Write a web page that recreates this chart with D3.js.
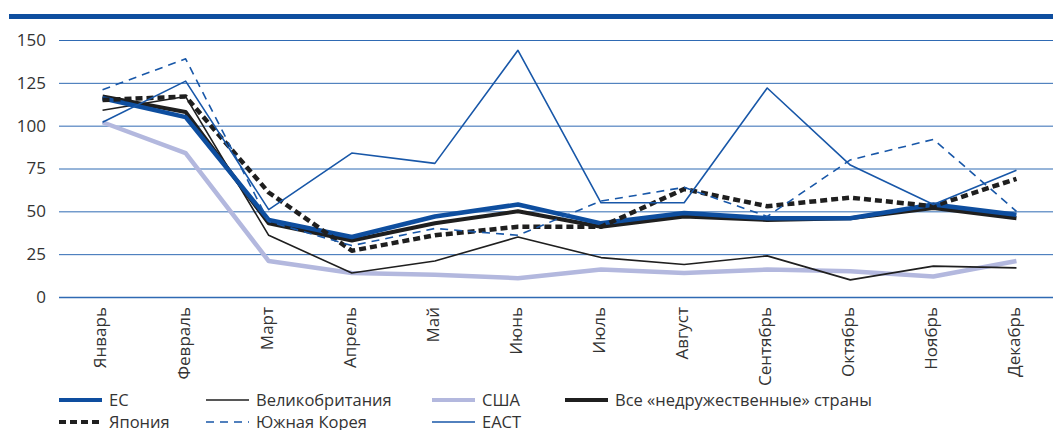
<!DOCTYPE html>
<html>
<head>
<meta charset="utf-8">
<script src="https://cdn.jsdelivr.net/npm/d3@7"></script>
<style>
  body { margin: 0; background: #fff; }
  svg { display: block; font-family: 'Open Sans', sans-serif; }
</style>
</head>
<body>
<div id="chart"></div>
<script>
let months = ['Январь', 'Февраль', 'Март', 'Апрель', 'Май', 'Июнь', 'Июль', 'Август', 'Сентябрь', 'Октябрь', 'Ноябрь', 'Декабрь']
let yTicks = [0, 25, 50, 75, 100, 125, 150]

let ec = [116, 105, 45, 35, 47, 54, 43, 49, 46, 46, 54, 48]
let uk = [109, 117, 36, 14, 21, 35, 23, 19, 24, 10, 18, 17]
let usa = [102, 84, 21, 14, 13, 11, 16, 14, 16, 15, 12, 21]
let allUnfriendly = [117, 108, 43, 33, 43, 50, 41, 47, 45, 46, 52, 46]
let japan = [115, 117, 61, 27, 36, 41, 41, 63, 53, 58, 53, 69]
let southKorea = [121, 139, 44, 30, 40, 36, 56, 64, 47, 80, 92, 50]
let eact = [102, 126, 51, 84, 78, 144, 55, 55, 122, 77, 54, 74]

let series = [
  { label: 'США', values: usa, color: '#b3b8de', width: 4.5, dash: null },
  { label: 'Великобритания', values: uk, color: '#1f1f1f', width: 1.6, dash: null },
  { label: 'Все «недружественные» страны', values: allUnfriendly, color: '#1f1f1f', width: 4, dash: null },
  { label: 'ЕС', values: ec, color: '#0e4e9f', width: 4.5, dash: null },
  { label: 'Япония', values: japan, color: '#1f1f1f', width: 4.5, dash: '7,4' },
  { label: 'Южная Корея', values: southKorea, color: '#1857a8', width: 1.6, dash: '8,6' },
  { label: 'ЕАСТ', values: eact, color: '#1857a8', width: 1.6, dash: null },
]

// legend order as in the picture
let legendOrder = ['ЕС', 'Великобритания', 'США', 'Все «недружественные» страны', 'Япония', 'Южная Корея', 'ЕАСТ']

let width = 1053,
  height = 430
let x = d3.scalePoint().domain(months).range([61, 1058]).padding(0.5)
let y = d3.scaleLinear().domain([0, 150]).range([297, 40])

let svg = d3
  .select('#chart')
  .append('svg')
  .attr('width', width)
  .attr('height', height)

// top rule
svg
  .append('rect')
  .attr('x', 9)
  .attr('y', 14)
  .attr('width', width - 9)
  .attr('height', 5)
  .attr('fill', '#0e4e9f')

// grid
let grid = svg.append('g').classed('grid', true)
grid
  .selectAll('line')
  .data(yTicks)
  .enter()
  .append('line')
  .attr('x1', 59)
  .attr('x2', width)
  .attr('y1', d => y(d) + 0.5)
  .attr('y2', d => y(d) + 0.5)
  .attr('stroke', '#2f6ab3')
  .attr('stroke-width', d => (d === 0 ? 1.4 : 1))

grid
  .selectAll('text')
  .data(yTicks)
  .enter()
  .append('text')
  .attr('x', 46)
  .attr('y', d => y(d))
  .attr('dy', '0.35em')
  .attr('text-anchor', 'end')
  .style('font-size', '17px')
  .style('fill', '#333')
  .text(d => d)

// month labels
svg
  .append('g')
  .selectAll('text')
  .data(months)
  .enter()
  .append('text')
  .attr('transform', d => 'translate(' + (x(d) - 2) + ',307) rotate(-90)')
  .attr('dy', '0.35em')
  .attr('text-anchor', 'end')
  .style('font-size', '17px')
  .style('fill', '#333')
  .text(d => d)

// lines
let line = d3
  .line()
  .x((d, i) => x(months[i]))
  .y(d => y(d))

svg
  .append('g')
  .selectAll('path')
  .data(series)
  .enter()
  .append('path')
  .attr('d', d => line(d.values))
  .attr('fill', 'none')
  .attr('stroke', d => d.color)
  .attr('stroke-width', d => d.width)
  .attr('stroke-dasharray', d => d.dash)
  .attr('stroke-linejoin', 'round')

// legend
let legendCols = [59, 206, 432, 565]
let legendRows = [400, 422]
let legend = svg
  .append('g')
  .classed('legend', true)
  .selectAll('g')
  .data(legendOrder.map(l => series.find(s => s.label === l)))
  .enter()
  .append('g')
  .attr('transform', (d, i) => 'translate(' + legendCols[i % 4] + ',' + legendRows[Math.floor(i / 4)] + ')')

legend
  .append('line')
  .attr('x1', 0)
  .attr('x2', 43)
  .attr('stroke', d => d.color)
  .attr('stroke-width', d => Math.min(d.width, 4))
  .attr('stroke-dasharray', d => d.dash)

legend
  .append('text')
  .attr('x', 50)
  .attr('dy', '0.35em')
  .style('font-size', '16.5px')
  .style('fill', '#333')
  .text(d => d.label)
</script>
</body>
</html>
